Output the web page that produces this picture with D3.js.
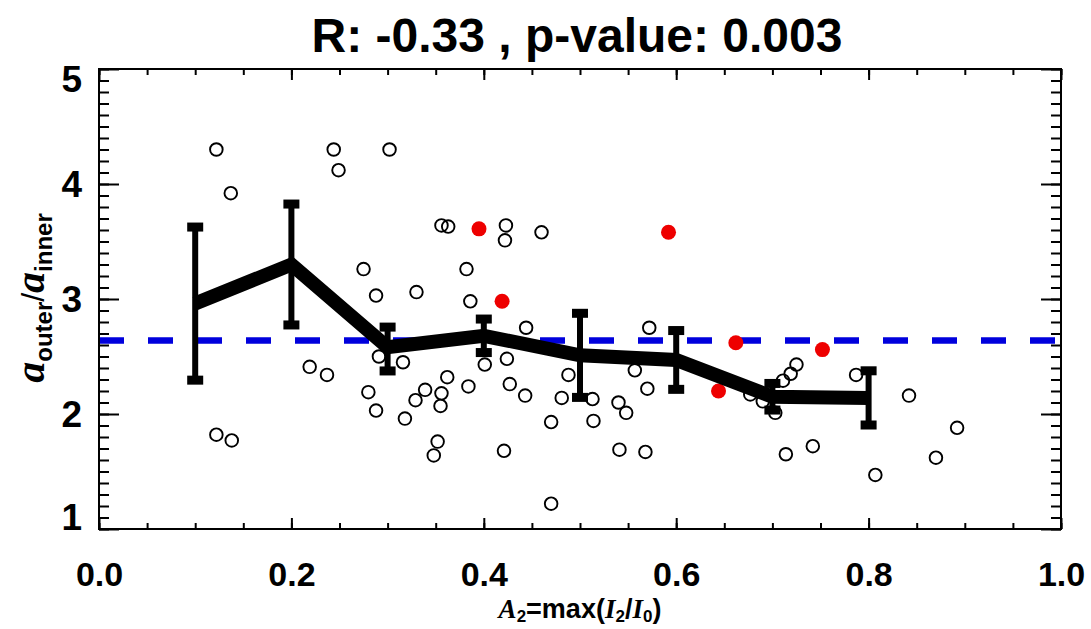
<!DOCTYPE html>
<html><head><meta charset="utf-8">
<script src="https://cdn.jsdelivr.net/npm/d3@7"></script>
<style>body{margin:0;background:#fff}</style>
</head><body><svg id="c" width="1091" height="629"></svg>
<script>
const titleText = "R: -0.33 , p-value: 0.003";
const xTicks = [0, 0.2, 0.4, 0.6, 0.8, 1.0];
const yTicks = [1, 2, 3, 4, 5];

const openX = [0.122,0.137,0.244,0.249,0.302,0.275,0.288,0.330,0.356,0.363,0.423,0.422,0.460,0.382,0.386,
  0.219,0.237,0.280,0.288,0.316,0.291,0.318,0.329,0.122,0.138,0.444,0.572,0.362,0.339,0.356,0.355,0.384,
  0.401,0.424,0.427,0.443,0.352,0.348,0.421,0.488,0.481,0.470,0.513,0.514,0.470,0.557,0.540,0.548,0.570,
  0.541,0.568,0.725,0.719,0.711,0.677,0.690,0.703,0.787,0.842,0.892,0.714,0.742,0.870,0.807];
const openY = [4.30,3.92,4.30,4.12,4.30,3.26,3.03,3.06,3.64,3.63,3.64,3.51,3.58,3.26,2.98,
  2.41,2.34,2.19,2.03,2.45,2.50,1.96,2.12,1.82,1.77,2.75,2.75,2.32,2.21,2.18,2.07,2.24,
  2.43,2.48,2.26,2.16,1.76,1.64,1.68,2.34,2.14,1.93,2.13,1.94,1.22,2.38,2.10,2.01,2.22,
  1.69,1.67,2.43,2.35,2.29,2.17,2.11,2.01,2.34,2.16,1.88,1.65,1.72,1.62,1.47];

const redX = [0.395,0.592,0.419,0.662,0.752,0.644];
const redY = [3.61,3.58,2.98,2.62,2.56,2.20];

const binX    = [0.1, 0.2, 0.3, 0.4, 0.5, 0.6, 0.7, 0.8];
const binMean = [2.96,3.30,2.58,2.68,2.51,2.47,2.15,2.14];
const binLo   = [2.29,2.77,2.37,2.53,2.14,2.21,2.03,1.90];
const binHi   = [3.63,3.83,2.76,2.83,2.88,2.73,2.27,2.38];

const refLevel = 2.64;

const svg = d3.select("#c");
const L = 99, R = 1061, T = 69, B = 529;
const x = d3.scaleLinear().domain([0, 1]).range([L, R]);
const y = d3.scaleLinear().domain([1, 5]).range([B, T]);
const font = "'Liberation Sans', Arial, Helvetica, sans-serif";

// reference dashed line
svg.append("line")
  .attr("x1", x(0)).attr("x2", x(1))
  .attr("y1", y(refLevel)).attr("y2", y(refLevel))
  .attr("stroke", "#0000dd").attr("stroke-width", 6.5)
  .attr("stroke-dasharray", "25 24");

// open circles
svg.append("g").selectAll("circle").data(openX).join("circle")
  .attr("cx", (d) => x(d)).attr("cy", (d, i) => y(openY[i]))
  .attr("r", 6.3).attr("fill", "none").attr("stroke", "#000").attr("stroke-width", 1.9);

// red points
svg.append("g").selectAll("circle").data(redX).join("circle")
  .attr("cx", (d) => x(d)).attr("cy", (d, i) => y(redY[i]))
  .attr("r", 7.5).attr("fill", "#ee0000");

// binned mean line
svg.append("path")
  .datum(binX)
  .attr("d", d3.line().x((d) => x(d)).y((d, i) => y(binMean[i])))
  .attr("fill", "none").attr("stroke", "#000").attr("stroke-width", 14)
  .attr("stroke-linejoin", "miter");

// error bars
const eb = svg.append("g");
eb.selectAll("line.v").data(binX).join("line").attr("class", "v")
  .attr("x1", (d) => x(d)).attr("x2", (d) => x(d))
  .attr("y1", (d, i) => y(binLo[i])).attr("y2", (d, i) => y(binHi[i]))
  .attr("stroke", "#000").attr("stroke-width", 6);
eb.selectAll("rect.hi").data(binX).join("rect").attr("class", "hi")
  .attr("x", (d) => x(d) - 8).attr("y", (d, i) => y(binHi[i]) - 4)
  .attr("width", 16).attr("height", 9).attr("fill", "#000");
eb.selectAll("rect.lo").data(binX).join("rect").attr("class", "lo")
  .attr("x", (d) => x(d) - 8).attr("y", (d, i) => y(binLo[i]) - 5)
  .attr("width", 16).attr("height", 9).attr("fill", "#000");

// axes
const xMinor = d3.range(0, 1.0001, 0.05);
const yMinor = d3.range(1, 5.0001, 0.1);
function styleAxis(g) {
  g.select(".domain").remove();
  g.selectAll(".tick line").attr("stroke", "#000").attr("stroke-width", 2);
  g.selectAll("text").attr("fill", "#000").attr("font-family", font)
    .attr("font-weight", "bold").attr("font-size", 34);
}
svg.append("g").attr("transform", `translate(0,${B})`)
  .call(d3.axisBottom(x).tickValues(xMinor).tickSizeInner(-6).tickSizeOuter(0).tickFormat(""))
  .call(styleAxis);
svg.append("g").attr("transform", `translate(0,${B})`)
  .call(d3.axisBottom(x).tickValues(xTicks).tickSizeInner(-11).tickSizeOuter(0)
    .tickPadding(33).tickFormat(d3.format(".1f")))
  .call(styleAxis);
svg.append("g").attr("transform", `translate(0,${T})`)
  .call(d3.axisTop(x).tickValues(xMinor).tickSizeInner(-6).tickSizeOuter(0).tickFormat(""))
  .call(styleAxis);
svg.append("g").attr("transform", `translate(0,${T})`)
  .call(d3.axisTop(x).tickValues(xTicks).tickSizeInner(-11).tickSizeOuter(0).tickFormat(""))
  .call(styleAxis);
svg.append("g").attr("transform", `translate(${L},0)`)
  .call(d3.axisLeft(y).tickValues(yMinor).tickSizeInner(-10).tickSizeOuter(0).tickFormat(""))
  .call(styleAxis);
const yl = svg.append("g").attr("transform", `translate(${L},0)`)
  .call(d3.axisLeft(y).tickValues(yTicks).tickSizeInner(-20).tickSizeOuter(0)
    .tickPadding(17).tickFormat(d3.format("d")))
  .call(styleAxis);
yl.selectAll(".tick text").attr("font-size", 37)
  .attr("dy", (d) => d === 5 ? "0.62em" : d === 1 ? "0.0em" : "0.34em");
svg.append("g").attr("transform", `translate(${R},0)`)
  .call(d3.axisRight(y).tickValues(yMinor).tickSizeInner(-10).tickSizeOuter(0).tickFormat(""))
  .call(styleAxis);
svg.append("g").attr("transform", `translate(${R},0)`)
  .call(d3.axisRight(y).tickValues(yTicks).tickSizeInner(-20).tickSizeOuter(0).tickFormat(""))
  .call(styleAxis);

// frame
svg.append("rect").attr("x", L).attr("y", T).attr("width", R - L).attr("height", B - T)
  .attr("fill", "none").attr("stroke", "#000").attr("stroke-width", 2);

// title
svg.append("text").attr("x", 577).attr("y", 52).attr("text-anchor", "middle")
  .attr("font-family", font).attr("font-weight", "bold").attr("font-size", 48)
  .text(titleText);

// x label
const serif = "'Liberation Serif', 'Times New Roman', serif";
const xl = svg.append("text").attr("x", 580).attr("y", 618).attr("text-anchor", "middle")
  .attr("font-family", font).attr("font-weight", "bold").attr("font-size", 27);
xl.append("tspan").attr("font-family", serif).attr("font-style", "italic").text("A");
xl.append("tspan").attr("font-size", 17).attr("dy", 4).text("2");
xl.append("tspan").attr("dy", -4).text("=max(");
xl.append("tspan").attr("font-family", serif).attr("font-style", "italic").text("I");
xl.append("tspan").attr("font-size", 17).attr("dy", 4).text("2");
xl.append("tspan").attr("dy", -4).text("/");
xl.append("tspan").attr("font-family", serif).attr("font-style", "italic").text("I");
xl.append("tspan").attr("font-size", 17).attr("dy", 4).text("0");
xl.append("tspan").attr("dy", -4).text(")");

// y label
const ylab = svg.append("text").attr("transform", "translate(44,298) rotate(-90)")
  .attr("text-anchor", "middle").attr("font-family", font).attr("font-weight", "bold")
  .attr("font-size", 42);
ylab.append("tspan").attr("font-family", serif).attr("font-style", "italic").text("a");
ylab.append("tspan").attr("font-size", 24).attr("dy", 8).text("outer");
ylab.append("tspan").attr("dy", -8).attr("font-size", 32).attr("font-weight", "normal").text("/");
ylab.append("tspan").attr("font-family", serif).attr("font-style", "italic").text("a");
ylab.append("tspan").attr("font-size", 24).attr("dy", 8).text("inner");
</script></body></html>
